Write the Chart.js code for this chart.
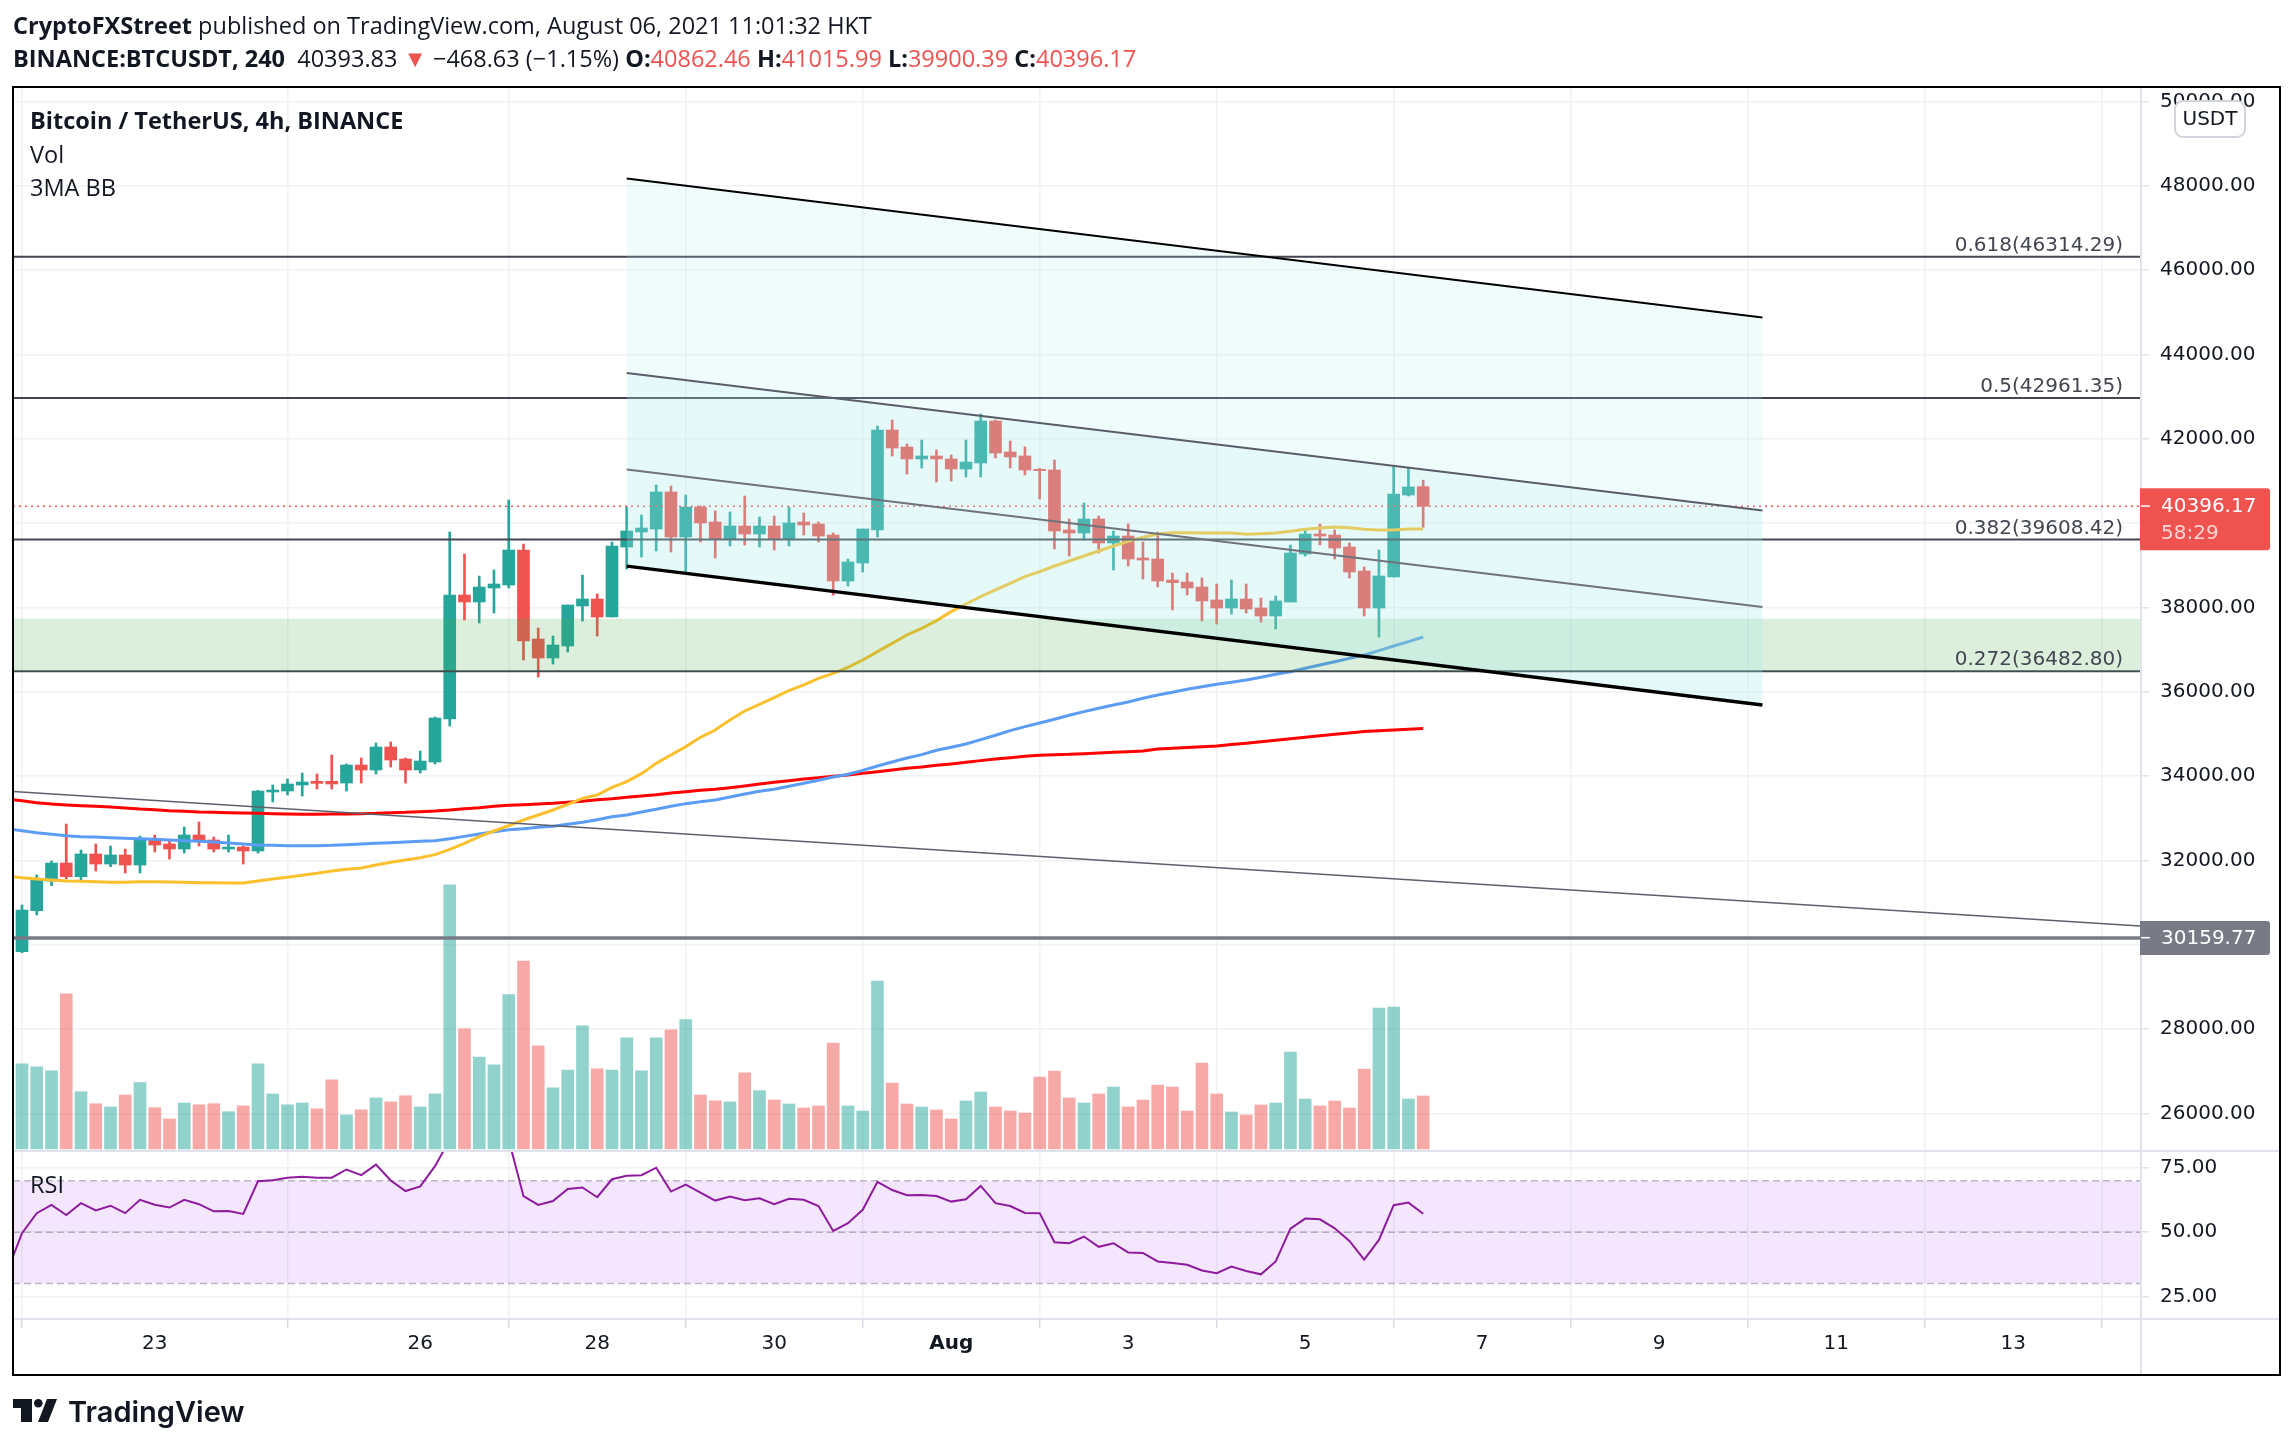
<!DOCTYPE html>
<html>
<head>
<meta charset="utf-8">
<title>BTCUSDT</title>
<script src="https://cdn.jsdelivr.net/npm/chart.js@4/dist/chart.umd.min.js"></script>
<style>
  body { margin: 0; background: #fff; width: 2294px; height: 1448px; overflow: hidden; position: relative; }
  canvas { position: absolute; left: 0; top: 0; }
  .txt { position: absolute; white-space: pre; font-family: "Open Sans", sans-serif; color: #131722; font-size: 23.5px; line-height: 30px; }
  .txt b { font-weight: 700; }
  .red { color: #ef5350; }
  #logo { position: absolute; left: 0; top: 1385px; }
</style>
</head>
<body>
<canvas id="chart" width="2294" height="1448"></canvas>
<div class="txt" style="left:13px;top:10px"><b>CryptoFXStreet</b> published on TradingView.com, August 06, 2021 11:01:32 HKT</div>
<div class="txt" style="left:13px;top:43px"><b>BINANCE:BTCUSDT, 240</b>  40393.83 <span class="red">▼</span> −468.63 (−1.15%) <b>O:</b><span class="red">40862.46</span> <b>H:</b><span class="red">41015.99</span> <b>L:</b><span class="red">39900.39</span> <b>C:</b><span class="red">40396.17</span></div>
<div class="txt" style="left:30px;top:105px"><b>Bitcoin / TetherUS, 4h, BINANCE</b></div>
<div class="txt" style="left:30px;top:139px">Vol</div>
<div class="txt" style="left:30px;top:172px">3MA BB</div>
<div class="txt" style="left:30px;top:1169px">RSI</div>
<svg id="logo" width="270" height="50">
  <g fill="#131722">
    <path d="M13 14H32V37H21V23H13Z"/>
    <circle cx="38.3" cy="18.3" r="4.3"/>
    <path d="M47 14H57L48 37H38Z"/>
    <text x="68" y="37" font-family="Inter, sans-serif" font-weight="600" font-size="29">TradingView</text>
  </g>
</svg>
<script>
// OHLC per 4h bar
const opens = [
  29833,30806,31509,31936,31612,32150,31912,32126,31889,32505,
  32387,32268,32600,32482,32268,32315,32221,33620,33643,33786,
  33873,33873,33833,34260,34142,34687,34403,34142,34331,35351,
  38292,38126,38458,38529,39359,37248,36798,37082,38031,38197,
  37770,39430,39786,39857,40735,39668,40379,40023,39620,39929,
  39739,39929,39620,40023,39976,39715,38624,39051,39834,42205,
  41802,41518,41589,41518,41280,41423,42419,41684,41589,41272,
  41257,39834,39763,40095,39525,39691,39170,39146,38648,38601,
  38482,38174,37984,38197,37984,37794,38126,39264,39739,39715,
  39431,38862,37984,38719,40664,40862
];
const closes = [
  30821,31533,31936,31612,32150,31912,32126,31889,32505,32363,
  32268,32600,32458,32268,32315,32221,33643,33667,33810,33857,
  33825,33810,34260,34142,34687,34379,34142,34355,35375,38292,
  38126,38481,38553,39359,37201,36798,37106,38055,38197,37770,
  39454,39810,39881,40735,39668,40379,40000,39620,39929,39739,
  39929,39620,40000,39952,39691,38624,39075,39857,42205,41778,
  41518,41589,41518,41280,41446,42419,41660,41565,41257,41241,
  39810,39763,40095,39525,39691,39146,39122,38624,38585,38458,
  38150,37984,38197,37960,37794,38150,39288,39739,39691,39407,
  38838,37984,38743,40687,40854,40396
];
const highs = [
  30940,31652,31984,32861,32244,32387,32339,32268,32576,32600,
  32482,32790,32908,32553,32600,32339,33660,33786,33928,34070,
  34047,34497,34284,34426,34782,34806,34426,34592,35398,39786,
  39264,38742,38885,40545,39501,37509,37319,38055,38766,38315,
  39549,40379,40189,40901,40877,40664,40403,40284,40261,40640,
  40142,40166,40379,40237,40023,39763,39146,39857,42300,42442,
  41873,41968,41731,41612,41968,42585,42442,41944,41802,41296,
  41494,40095,40474,40166,39810,39976,39549,39786,38814,38814,
  38695,38553,38648,38553,38221,38268,39478,39834,39976,39834,
  39525,38956,39359,41352,41304,41016
];
const lows = [
  29810,30703,31398,31557,31493,31746,31849,31699,31699,32197,
  32031,32173,32339,32197,32197,31912,32173,33383,33549,33525,
  33691,33691,33643,33833,34047,34213,33833,34070,34284,35185,
  37699,37628,37865,38458,36750,36347,36655,36940,37675,37319,
  37770,38908,39193,39336,39312,38806,39549,39170,39454,39478,
  39431,39359,39454,39715,39549,38292,38506,38838,39668,41589,
  41162,41304,40972,40996,41091,41091,41541,41304,41138,40569,
  39383,39217,39597,39288,38885,38980,38672,38482,37937,38292,
  37676,37604,37842,37865,37652,37486,38126,39217,39478,39146,
  38695,37794,37296,38719,40640,39900
];
const volumes = [
  8510,8225,7826,15507,5725,4529,4203,5399,6630,4130,
  3007,4601,4420,4529,3732,4312,8514,5507,4420,4601,
  4022,6920,3406,3913,5109,4710,5326,4203,5507,26413,
  12029,9203,8406,15435,18804,10326,6123,7899,12319,8007,
  7899,11123,7826,11123,11920,12935,5399,4819,4710,7609,
  5833,4900,4500,4100,4300,10600,4300,3800,16800,6600,
  4500,4200,3900,3000,4800,5700,4200,3800,3600,7200,
  7800,5100,4600,5500,6200,4200,4900,6400,6200,3800,
  8600,5500,3700,3400,4400,4600,9700,5000,4300,4800,
  4100,8000,14100,14200,5000,5300
];
// moving averages and RSI start one bar left of the first candle
const maFast = [31628,
  31588,31557,31533,31509,31501,31493,31478,31478,31493,31493,
  31486,31478,31470,31470,31462,31462,31509,31557,31596,31644,
  31691,31746,31786,31817,31889,31952,32007,32062,32134,32260,
  32403,32561,32695,32822,32956,33075,33193,33327,33470,33549,
  33731,33866,34055,34300,34498,34696,34917,35091,35328,35542,
  35700,35858,36024,36158,36316,36435,36577,36751,36948,37146,
  37344,37502,37684,37897,38079,38253,38411,38569,38727,38846,
  38980,39099,39217,39336,39454,39565,39660,39739,39770,39770,
  39763,39763,39763,39731,39747,39763,39802,39850,39881,39905,
  39889,39850,39834,39834,39857,39857
];
const maMid = [32750,
  32703,32655,32616,32584,32561,32553,32537,32521,32513,32498,
  32482,32466,32450,32434,32410,32387,32363,32355,32347,32347,
  32347,32355,32371,32387,32403,32418,32434,32450,32466,32513,
  32568,32624,32679,32727,32750,32782,32806,32853,32901,32964,
  33035,33075,33146,33210,33281,33344,33391,33431,33502,33573,
  33636,33684,33755,33826,33897,33976,34040,34134,34237,34332,
  34427,34506,34609,34680,34759,34862,34965,35075,35170,35257,
  35344,35439,35526,35605,35684,35755,35842,35921,35984,36055,
  36118,36174,36221,36276,36340,36411,36474,36553,36632,36711,
  36790,36869,36972,37083,37185,37296
];
const maSlow = [33446,
  33414,33367,33335,33312,33296,33280,33264,33241,33217,33201,
  33177,33162,33146,33138,33130,33122,33114,33106,33098,33090,
  33090,33098,33098,33106,33114,33130,33138,33154,33169,33193,
  33225,33248,33280,33304,33319,33335,33351,33375,33399,33438,
  33462,33494,33526,33557,33597,33628,33660,33684,33723,33763,
  33810,33850,33889,33929,33960,33992,34024,34063,34103,34142,
  34182,34213,34253,34285,34324,34364,34403,34435,34467,34490,
  34506,34514,34530,34546,34561,34577,34593,34640,34658,34675,
  34692,34710,34744,34779,34814,34849,34883,34918,34953,34987,
  35022,35057,35074,35091,35109,35126
];
const rsiValues = [34.8,
  49.6,57.4,60.6,56.7,61.3,58.5,60.3,57.4,62.6,60.7,
  59.6,62.6,60.9,58.1,58.2,57.1,69.8,70.2,71.2,71.6,
  71.2,71.2,74.4,72.2,76.3,70.1,66,67.8,75.7,86,
  85,84,85,86,64,60.6,62.1,66.8,67.4,63.6,
  70.6,72,72.2,75.1,65.8,68.5,65.4,62.3,63.9,62.4,
  63.2,60.9,63,62.6,60.2,50.5,53.5,58.7,69.6,66.4,
  64.4,64.5,64.1,61.9,62.8,68,61.3,60.2,57.5,57.4,
  46.1,45.7,48.3,44.3,45.7,42.1,41.9,38.6,38,37.3,
  35.1,34,36.6,34.9,33.6,38.6,51.4,55.3,55,51.5,
  46.6,39.3,47,60.5,61.5,57.2
];

const fibLevels = ['0.618', '0.5', '0.382', '0.272'];
const fibPrices = [46314.29, 42961.35, 39608.42, 36482.80];
const zonePrices = [37727, 36482.8];
const lastPrice = 40396.17;
const lastCountdown = '58:29';
const supportPrice = 30159.77;
const trendPrices = [33634, 30441];
const channelBars = [41, 118];
const channelTop = [48172, 44875];
const channelUpper = [43557, 40295];
const channelLower = [41267, 38005];
const channelBottom = [38977, 35681];

const priceTicks = [26000,28000,30000,32000,34000,36000,38000,40000,42000,44000,46000,48000,50000];
const rsiTicks = [25, 50, 75];
const rsiBands = [70, 50, 30];
const dayBars = [9, 27, 39, 51, 63, 75, 87, 99, 111, 123, 135];
const dayLabels = ['23', '26', '28', '30', 'Aug', '3', '5', '7', '9', '11', '13'];

const xMin = -0.61, xMax = 143.6;
const UP = '#26a69a', DOWN = '#ef5350';
const GRID = '#f1f2f4', AXIS = '#e0e3eb';
const tickFont = { family: 'DejaVu Sans', size: 20 };

const candleBars = opens.map((_, i) => i);
const isUp = i => closes[i] >= opens[i];

function line(label, xs, ys, color, width, order, extra) {
  return Object.assign({
    type: 'line', label,
    data: xs.map((x, i) => ({ x, y: ys[i] })),
    borderColor: color, borderWidth: width,
    pointRadius: 0, tension: 0, fill: false,
    xAxisID: 'x', yAxisID: 'y', order
  }, extra || {});
}
const span = [xMin, xMax];
const flat = v => [v, v];
const maBars = maFast.map((_, i) => i - 1);

const datasets = [
  {
    type: 'bar', label: 'Vol', yAxisID: 'yVol', xAxisID: 'x', order: 90, grouped: false, barThickness: 12,
    data: candleBars.map(i => ({ x: i, y: volumes[i] })),
    backgroundColor: candleBars.map(i => isUp(i) ? 'rgba(38,166,154,.5)' : 'rgba(239,83,80,.5)')
  },
  {
    type: 'bar', label: 'wick', yAxisID: 'y', xAxisID: 'x', order: 80, grouped: false, barThickness: 2,
    data: candleBars.map(i => ({ x: i, y: [lows[i], highs[i]] })),
    backgroundColor: candleBars.map(i => isUp(i) ? UP : DOWN)
  },
  {
    type: 'bar', label: 'body', yAxisID: 'y', xAxisID: 'x', order: 79, grouped: false, barThickness: 12,
    data: candleBars.map(i => ({ x: i, y: [opens[i], closes[i]] })),
    backgroundColor: candleBars.map(i => isUp(i) ? UP : DOWN)
  },
  line('MA slow', maBars, maSlow, '#ff0000', 3, 72),
  line('MA mid', maBars, maMid, '#5b9cf6', 3, 71),
  line('MA fast', maBars, maFast, '#fbc02d', 3, 70),
  line('trend', span, trendPrices, '#5d606b', 1.5, 60),
  line('support', span, flat(supportPrice), '#787b86', 3.5, 59),
  line('last', span, flat(lastPrice), '#ef5350', 1.5, 58, { borderDash: [2, 4] })
];
fibPrices.forEach((p, i) => datasets.push(line('fib ' + fibLevels[i], span, flat(p), '#434651', 2, 50 - i)));
datasets.push(line('zone', span, flat(zonePrices[0]), 'transparent', 0, 40, {
  fill: { value: zonePrices[1] }, backgroundColor: 'rgba(76,175,80,.2)'
}));
datasets.push(line('ch top', channelBars, channelTop, '#000', 2, 24, { fill: '+1', backgroundColor: 'rgba(168,234,234,.17)' }));
datasets.push(line('ch upper', channelBars, channelUpper, '#5a5d68', 2, 23, { fill: '+1', backgroundColor: 'rgba(168,234,234,.286)' }));
datasets.push(line('ch lower', channelBars, channelLower, '#70737d', 2, 22, { fill: '+1', backgroundColor: 'rgba(168,234,234,.286)' }));
datasets.push(line('ch bottom', channelBars, channelBottom, '#000', 3.5, 21));
// RSI pane
datasets.push(line('rsi band', span, flat(rsiBands[0]), 'transparent', 0, 15, {
  yAxisID: 'yRsi', fill: { value: rsiBands[2] }, backgroundColor: 'rgba(170,63,240,.13)'
}));
rsiBands.forEach((v, i) => datasets.push(line('rsi ' + v, span, flat(v), 'rgba(120,123,134,.5)', 1.5, 14 - i, {
  yAxisID: 'yRsi', borderDash: [7, 4]
})));
datasets.push(line('RSI', maBars, rsiValues, '#8e1b9e', 2, 5, { yAxisID: 'yRsi' }));

const overlayPlugin = {
  id: 'overlay',
  afterDatasetsDraw(chart) {
    const { ctx, chartArea, scales: { y } } = chart;
    ctx.save();
    ctx.font = '20px "DejaVu Sans"';
    ctx.fillStyle = '#434651';
    ctx.textAlign = 'right';
    ctx.textBaseline = 'alphabetic';
    fibPrices.forEach((p, i) => {
      ctx.fillText(fibLevels[i] + '(' + p.toFixed(2) + ')', chartArea.right - 17, y.getPixelForValue(p) - 6);
    });
    ctx.restore();
  },
  afterDraw(chart) {
    const { ctx, chartArea, scales: { y, yRsi } } = chart;
    const frameRight = chart.width - 14, frameBottom = chart.height - 73;
    ctx.save();
    // pane dividers
    ctx.strokeStyle = AXIS;
    ctx.lineWidth = 2;
    ctx.beginPath();
    ctx.moveTo(chartArea.left, yRsi.top); ctx.lineTo(frameRight, yRsi.top);
    ctx.moveTo(chartArea.left, yRsi.bottom); ctx.lineTo(frameRight, yRsi.bottom);
    ctx.moveTo(chartArea.right + 1, chartArea.top); ctx.lineTo(chartArea.right + 1, frameBottom);
    ctx.stroke();

    // price tags on the axis
    const tag = (top, h, color) => {
      ctx.fillStyle = color;
      ctx.beginPath();
      ctx.roundRect(chartArea.right, top, 130, h, [0, 3, 3, 0]);
      ctx.fill();
    };
    const labelX = chartArea.right + 21;
    ctx.font = '20px "DejaVu Sans"';
    ctx.textAlign = 'left';
    ctx.textBaseline = 'middle';
    const lastY = y.getPixelForValue(lastPrice);
    tag(lastY - 18, 62, DOWN);
    ctx.fillStyle = '#fff';
    ctx.fillText(lastPrice.toFixed(2), labelX, lastY + 1);
    ctx.fillStyle = 'rgba(255,255,255,.75)';
    ctx.fillText(lastCountdown, labelX, lastY + 28);
    ctx.fillStyle = '#fff';
    ctx.fillRect(chartArea.right + 1, lastY - 1, 9, 1.5);

    const supY = y.getPixelForValue(supportPrice);
    tag(supY - 17, 34, '#787b86');
    ctx.fillStyle = '#fff';
    ctx.fillText(supportPrice.toFixed(2), labelX, supY + 1);
    ctx.fillRect(chartArea.right + 1, supY - 1, 9, 1.5);

    // currency button
    ctx.fillStyle = '#fff';
    ctx.strokeStyle = '#d1d4dc';
    ctx.lineWidth = 2;
    ctx.beginPath();
    ctx.roundRect(chartArea.right + 35, chartArea.top + 14, 70, 36, 8);
    ctx.fill();
    ctx.stroke();
    ctx.fillStyle = '#131722';
    ctx.textAlign = 'center';
    ctx.fillText('USDT', chartArea.right + 70, chartArea.top + 33);

    // outer frame
    ctx.strokeStyle = '#000';
    ctx.lineWidth = 2;
    ctx.strokeRect(chartArea.left, chartArea.top, frameRight - chartArea.left, frameBottom - chartArea.top);
    ctx.restore();
  }
};

new Chart(document.getElementById('chart'), {
  type: 'bar',
  data: { datasets },
  plugins: [overlayPlugin],
  options: {
    responsive: false,
    devicePixelRatio: 1,
    animation: false,
    layout: { padding: { left: 13, top: 87, right: 14, bottom: 73 } },
    plugins: { legend: { display: false }, tooltip: { enabled: false } },
    scales: {
      x: {
        type: 'linear', position: 'bottom', min: xMin, max: xMax, offset: false,
        grid: { color: GRID, lineWidth: 1.5, tickLength: 9, tickColor: '#d8dbe3' },
        border: { display: false },
        afterBuildTicks: s => { s.ticks = dayBars.map(value => ({ value })); },
        afterFit: s => { s.height = 56; s.paddingLeft = 0; s.paddingRight = 0; },
        ticks: {
          autoSkip: false, maxRotation: 0, padding: 4, color: '#131722',
          callback: (v, i) => dayLabels[i],
          font: c => ({ family: 'DejaVu Sans', size: 20, weight: dayLabels[c.index] === 'Aug' ? 'bold' : 'normal' })
        }
      },
      y: {
        type: 'linear', position: 'right', stack: 'panes', stackWeight: 1064, min: 25106, max: 50340,
        grid: { color: GRID, lineWidth: 1.5, tickLength: 9, tickColor: AXIS },
        border: { display: false },
        afterBuildTicks: s => { s.ticks = priceTicks.map(value => ({ value })); },
        afterFit: s => { s.width = 140; s.paddingTop = 0; s.paddingBottom = 0; },
        ticks: { padding: 11, crossAlign: 'near', color: '#131722', font: tickFont, callback: v => v.toFixed(2) }
      },
      yRsi: {
        type: 'linear', position: 'right', stack: 'panes', stackWeight: 168, min: 16.2, max: 81.6,
        grid: { color: GRID, lineWidth: 1.5, tickLength: 9, tickColor: AXIS },
        border: { display: false },
        afterBuildTicks: s => { s.ticks = rsiTicks.map(value => ({ value })); },
        afterFit: s => { s.width = 140; s.paddingTop = 0; s.paddingBottom = 0; },
        ticks: { padding: 11, crossAlign: 'near', color: '#131722', font: tickFont, callback: v => v.toFixed(2) }
      },
      // spans the whole plot height: 100 units of volume per pixel, zero just above the RSI pane
      yVol: { type: 'linear', position: 'right', display: false, min: -17000, max: 106200 }
    }
  }
});
</script>
</body>
</html>
